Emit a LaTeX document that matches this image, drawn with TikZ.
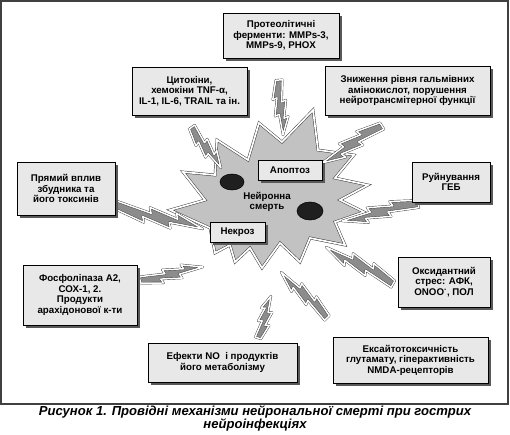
\documentclass[tikz,border=0pt]{standalone}
\usepackage{fontspec}
\setmainfont{Liberation Sans}
\usetikzlibrary{shadows}
\tikzset{
  box/.style={draw=black, line width=0.5pt, fill=black!9, align=center, inner sep=1pt,
    font=\bfseries\fontsize{7.3}{7.9}\selectfont,
    drop shadow={opacity=1, fill=black!65, shadow xshift=2.2pt, shadow yshift=-2.2pt}},
  starst/.style={fill=black!24, draw=black!80, line width=0.35pt, double=white, double distance=1.3pt, line join=miter},
  boltst/.style={fill=black!45, draw=black!80, line width=0.3pt, double=white, double distance=1.1pt, line join=round},
  blob/.style={fill=black!88, draw=black}
}
\newcommand\lbolt[5]{%
  \pgfmathsetmacro\bang{atan2(-(#4-#2),#3-#1)}%
  \pgfmathsetmacro\blen{veclen(#3-#1,#4-#2)}%
  \begin{scope}[shift={(#1,#2)},rotate=\bang]
    \draw[boltst] (0,{-3*#5}) -- ({0.40*\blen},{-1*#5}) -- ({0.37*\blen},{-5*#5})
      -- ({0.70*\blen},{-2*#5}) -- ({0.67*\blen},{-6*#5}) -- ({\blen},0)
      -- ({0.62*\blen},{2*#5}) -- ({0.65*\blen},{6*#5}) -- ({0.32*\blen},{3*#5})
      -- ({0.35*\blen},{7*#5}) -- (0,{3*#5}) -- cycle;
  \end{scope}}
\begin{document}
\begin{tikzpicture}[x=0.75pt,y=-0.75pt]
\useasboundingbox (0,0) rectangle (510,435);
\fill[white] (0,0) rectangle (510,435);
\draw[line width=1.4pt, black!75] (1,1) rectangle (508,404);

% star
\draw[starst] (217,140) -- (248,160) -- (259,123) -- (282,142) -- (313,110) -- (318,150)
  -- (354,155) -- (335,178) -- (368,185) -- (340,200) -- (364,212) -- (335,222)
  -- (345,245) -- (310,238) -- (300,262) -- (280,243) -- (262,268) -- (250,248)
  -- (235,262) -- (230,245) -- (215,253) -- (210,228) -- (170,210) -- (205,200)
  -- (183,172) -- (215,175) -- cycle;
\fill[blob] (232,182) ellipse [x radius=12, y radius=8];
\fill[blob] (310,211) ellipse [x radius=13, y radius=9];
\node[font=\bfseries\fontsize{7.3}{7.9}\selectfont, align=center] (death) at (267,202) {Нейронна\\смерть};

% bolts
\lbolt{279}{80}{283}{135}{1.1}
\lbolt{192}{127}{221}{168}{1.1}
\lbolt{382}{126}{322}{163}{1.25}
\lbolt{116}{205}{203}{229}{1.35}
\lbolt{418}{204}{342}{221}{1.25}
\lbolt{393}{284}{326}{247}{1.25}
\lbolt{140}{280}{203}{267}{1.1}
\lbolt{258}{338}{271}{296}{1.0}
\lbolt{327}{318}{281}{272}{1.1}

% boxes
\node[box, minimum width=87pt, minimum height=33.75pt] (prot) at (281,35.5) {Протеолітичні\\ферменти: MMPs-3,\\MMPs-9, PHOX};
\node[box, minimum width=86.25pt, minimum height=36pt] (cyto) at (189.5,91) {Цитокіни,\\хемокіни TNF-α,\\IL-1, IL-6, TRAIL та ін.};
\node[box, minimum width=123.75pt, minimum height=36.75pt] (zn) at (407.5,90.5) {Зниження рівня гальмівних\\амінокислот, порушення\\нейротрансмітерної функції};
\node[box, minimum width=73.5pt, minimum height=39.75pt] (pr) at (66,188.5) {Прямий вплив\\збудника та\\його токсинів};
\node[box, minimum width=58.5pt, minimum height=30pt] (geb) at (451,182) {Руйнування\\ГЕБ};
\node[box, minimum width=85.5pt, minimum height=45pt] (fos) at (80,295) {Фосфоліпаза А2,\\СОХ-1, 2.\\Продукти\\арахідонової к-ти};
\node[box, minimum width=69pt, minimum height=37.5pt] (ox) at (444,282) {Оксидантний\\стрес: АФК,\\ONOO\textsuperscript{-}, ПОЛ};
\node[box, minimum width=111.75pt, minimum height=29.25pt] (no) at (222.5,362.5) {Ефекти NO \ і продуктів\\його метаболізму};
\node[box, minimum width=116.25pt, minimum height=34.5pt] (ex) at (410.5,360) {Ексайтотоксичність\\глутамату, гіперактивність\\NMDA-рецепторів};
\node[box, minimum width=48pt, minimum height=15pt] (apo) at (290,170) {Апоптоз};
\node[box, minimum width=41.25pt, minimum height=15pt] (nec) at (237.5,232) {Некроз};

% caption
\node[font=\bfseries\itshape\fontsize{9.8}{8.6}\selectfont, align=center] (cap) at (255,418.5) {Рисунок 1. Провідні механізми нейрональної смерті при гострих\\нейроінфекціях};
\end{tikzpicture}
\end{document}
